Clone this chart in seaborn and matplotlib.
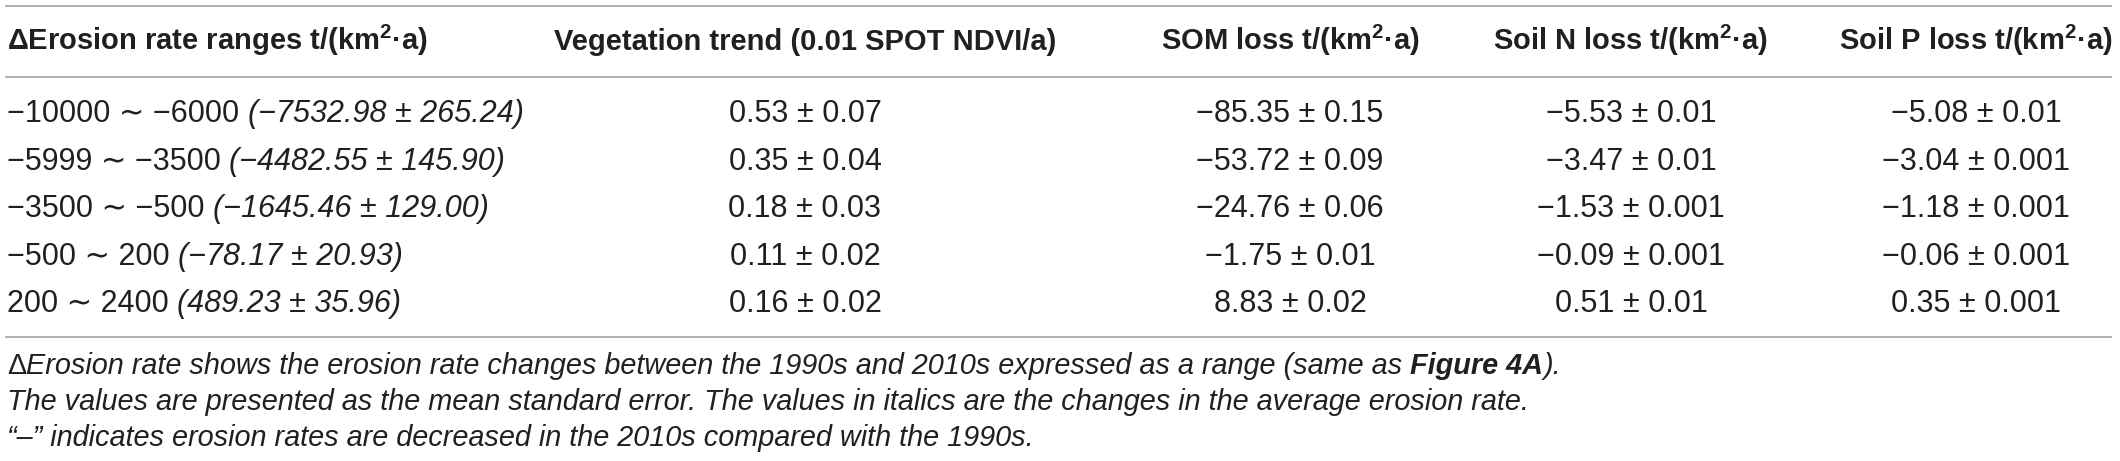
import matplotlib
matplotlib.use("Agg")
import matplotlib.pyplot as plt
import seaborn as sns

# erosion-rate classes and their mean change (italic part)
range_low = [-10000, -5999, -3500, -500, 200]
range_high = [-6000, -3500, -500, 200, 2400]
change_mean = [-7532.98, -4482.55, -1645.46, -78.17, 489.23]
change_se = [265.24, 145.90, 129.00, 20.93, 35.96]

# response columns (mean ± se)
veg_mean = [0.53, 0.35, 0.18, 0.11, 0.16]
veg_se = [0.07, 0.04, 0.03, 0.02, 0.02]
som_mean = [-85.35, -53.72, -24.76, -1.75, 8.83]
som_se = [0.15, 0.09, 0.06, 0.01, 0.02]
n_mean = [-5.53, -3.47, -1.53, -0.09, 0.51]
n_se = [0.01, 0.01, 0.001, 0.001, 0.01]
p_mean = [-5.08, -3.04, -1.18, -0.06, 0.35]
p_se = [0.01, 0.001, 0.001, 0.001, 0.001]

unit = "t/(km$^{\\mathbf{2}}$·a)"
headers = ["ΔErosion rate ranges " + unit,
           "Vegetation trend (0.01 SPOT NDVI/a)",
           "SOM loss " + unit,
           "Soil N loss " + unit,
           "Soil P loss " + unit]

note1_pre = "Erosion rate shows the erosion rate changes between the 1990s and 2010s expressed as a range (same as"
note1_ref = "Figure 4A"
note2 = ("The values are presented as the mean standard error. "
         "The values in italics are the changes in the average erosion rate.")
note3 = "“–” indicates erosion rates are decreased in the 2010s compared with the 1990s."

INK = "#231f20"
RULE = "#9d9d9d"
W, H = 2120, 461


def fmt(v, spec):
    return format(v, spec).replace("-", "−")


def pm(mean, se):
    return fmt(mean, ".2f") + " ± " + fmt(se, "g")


sns.set_theme(style="white")
plt.rcParams["font.family"] = ["Liberation Sans", "DejaVu Sans"]
plt.rcParams["mathtext.fontset"] = "custom"
plt.rcParams["mathtext.rm"] = "Liberation Sans"
plt.rcParams["mathtext.bf"] = "Liberation Sans:bold"

fig = plt.figure(figsize=(W / 100, H / 100), dpi=100)
ax = fig.add_axes([0, 0, 1, 1])
ax.set_xlim(0, W)
ax.set_ylim(H, 0)
ax.axis("off")
renderer = fig.canvas.get_renderer()

BODY, HEAD, NOTE = 22, 21, 20.8
col_x = [7, 805, 1290, 1631, 1976]
head_y = 50
row_y = [122, 170, 217, 265, 312]
note_y = [374, 410, 446]

ax.hlines([6, 77, 337], 5, 2112, color=RULE, lw=1.1)


def width(s, **kw):
    t = ax.text(0, 0, s, **kw)
    w = t.get_window_extent(renderer).width
    t.remove()
    return w


def space(**kw):
    return width("n n", **kw) - width("nn", **kw)


def put_runs(x, y, parts):
    # parts: list of (text, kwargs); a None text means one space of that style
    for s, kw in parts:
        if s is None:
            x += space(**kw)
            continue
        t = ax.text(x, y, s, va="baseline", ha="left", color=INK, **kw)
        x += t.get_window_extent(renderer).width


# header row
ax.text(col_x[0], head_y, headers[0], ha="left", va="baseline",
        fontsize=HEAD, fontweight="bold", color=INK)
for cx, h in zip(col_x[1:], headers[1:]):
    ax.text(cx, head_y, h, ha="center", va="baseline",
            fontsize=HEAD, fontweight="bold", color=INK)

# body rows
reg = dict(fontsize=BODY)
ita = dict(fontsize=BODY, fontstyle="italic")
for i, y in enumerate(row_y):
    rng = fmt(range_low[i], "d") + " ∼ " + fmt(range_high[i], "d")
    chg = "(" + fmt(change_mean[i], ".2f") + " ± " + fmt(change_se[i], ".2f") + ")"
    put_runs(col_x[0], y, [(rng, reg), (None, reg), (chg, ita)])
    cells = [pm(veg_mean[i], veg_se[i]), pm(som_mean[i], som_se[i]),
             pm(n_mean[i], n_se[i]), pm(p_mean[i], p_se[i])]
    for cx, c in zip(col_x[1:], cells):
        ax.text(cx, y, c, ha="center", va="baseline", fontsize=BODY, color=INK)

# footnotes
nreg = dict(fontsize=NOTE)
nit = dict(fontsize=NOTE, fontstyle="italic")
nbi = dict(fontsize=NOTE, fontstyle="italic", fontweight="bold")
put_runs(col_x[0], note_y[0], [("Δ", nreg), (note1_pre, nit), (None, nit),
                                (note1_ref, nbi), (").", nit)])
put_runs(col_x[0], note_y[1], [(note2, nit)])
put_runs(col_x[0], note_y[2], [(note3, nit)])

fig.savefig("out.png", dpi=100, facecolor="white")
